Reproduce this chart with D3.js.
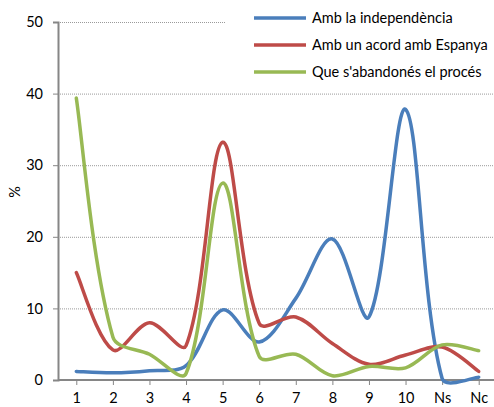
<!DOCTYPE html>
<html><head><meta charset="utf-8">
<script src="https://cdn.jsdelivr.net/npm/d3@7"></script>
<style>body{margin:0;background:#fff}svg{display:block}</style>
</head><body>
<svg id="c" width="494" height="407"></svg>
<script>
const categories = ["1","2","3","4","5","6","7","8","9","10","Ns","Nc"];
const seriesNames = ["Amb la independència","Amb un acord amb Espanya","Que s'abandonés el procés"];
const independencia = [1.2,1.0,1.3,2.0,9.8,5.3,11.4,19.7,8.8,37.8,0.2,0.4];
const acord = [15.0,4.2,8.0,4.8,33.2,7.9,8.8,5.1,2.2,3.5,4.6,1.2];
const abandones = [39.4,6.0,3.6,0.9,27.5,3.3,3.6,0.6,1.9,1.7,4.9,4.1];
const yTicks = [0,10,20,30,40,50];
const colors = ["#4A7EBB","#BE4B48","#98B954"];

const svg = d3.select("#c");
const mLeft = 58, mRight = 497, mTop = 22, mBottom = 380;
const x = d3.scalePoint().domain(categories).range([mLeft, mRight]).padding(0.5);
const y = d3.scaleLinear().domain([0,50]).range([mBottom, mTop]);
const font = "Lato, 'Open Sans', sans-serif";
const fs = 14.5;

// Excel-like smoothing curve factory (length-proportional tangents)
function ExcelSmooth(context) { this._context = context; }
ExcelSmooth.prototype = {
  areaStart() {}, areaEnd() {},
  lineStart() { this._pts = []; },
  point(x, y) { this._pts.push([+x, +y]); },
  lineEnd() {
    const p = this._pts, n = p.length, c = this._context;
    if (!n) return;
    c.moveTo(p[0][0], p[0][1]);
    if (n === 1) return;
    const outC = [], inC = [];
    for (let i = 0; i < n; i++) {
      const a = p[Math.max(0, i - 1)], b = p[i], e = p[Math.min(n - 1, i + 1)];
      const dx = e[0] - a[0], dy = e[1] - a[1];
      const la = Math.hypot(b[0] - a[0], b[1] - a[1]);
      const lb = Math.hypot(e[0] - b[0], e[1] - b[1]);
      const s = la + lb || 1;
      const fo = (i === 0 || i === n - 1) ? 1 / 6 : (lb / s) / 3;
      const fi = (i === 0 || i === n - 1) ? 1 / 6 : (la / s) / 3;
      outC[i] = [b[0] + dx * fo, b[1] + dy * fo];
      inC[i] = [b[0] - dx * fi, b[1] - dy * fi];
    }
    for (let i = 0; i < n - 1; i++) {
      c.bezierCurveTo(outC[i][0], outC[i][1], inC[i + 1][0], inC[i + 1][1], p[i + 1][0], p[i + 1][1]);
    }
  }
};
const curveExcel = ctx => new ExcelSmooth(ctx);

// gridlines
svg.append("g").selectAll("line").data(yTicks.filter(d=>d>0)).join("line")
  .attr("x1", mLeft).attr("x2", mRight)
  .attr("y1", d=>y(d)+0.5).attr("y2", d=>y(d)+0.5)
  .attr("stroke", "#9a9a9a").attr("stroke-width", 1).attr("stroke-dasharray", "1,1");

// y axis
const ya = svg.append("g").attr("transform", `translate(${mLeft},0)`)
  .call(d3.axisLeft(y).tickValues(yTicks).tickSize(5).tickPadding(10));
ya.select(".domain").attr("stroke", "#868686").attr("stroke-width", 2);
ya.selectAll(".tick line").attr("stroke", "#868686");
ya.selectAll("text").attr("font-family", font).attr("font-size", fs).attr("fill", "#000");

// x axis
const xa = svg.append("g").attr("transform", `translate(0,${mBottom})`)
  .call(d3.axisBottom(x).tickSize(5).tickSizeOuter(0).tickPadding(8));
xa.select(".domain").attr("stroke", "#868686").attr("stroke-width", 2).attr("d", `M${mLeft},0H${mRight}`);
xa.selectAll(".tick line").attr("stroke", "#868686");
xa.selectAll("text").attr("font-family", font).attr("font-size", fs).attr("fill", "#000");

// y label
svg.append("text").attr("transform", "translate(20,192) rotate(-90)")
  .attr("text-anchor", "middle").attr("font-family", font).attr("font-size", fs).text("%");

// lines
const all = [independencia, acord, abandones];
const line = d3.line().x((d,i)=>x(categories[i])).y(d=>y(d)).curve(curveExcel);
svg.append("g").selectAll("path").data(all).join("path")
  .attr("d", d=>line(d)).attr("fill","none")
  .attr("stroke", (d,i)=>colors[i]).attr("stroke-width", 3.5)
  .attr("stroke-linejoin","round").attr("stroke-linecap","round");

// legend
const lg = svg.append("g");
lg.append("rect").attr("x", 226).attr("y", 0).attr("width", 268).attr("height", 86).attr("fill", "#fff");
const items = lg.selectAll("g").data(seriesNames).join("g")
  .attr("transform", (d,i)=>`translate(0,${18 + i*27})`);
items.append("line").attr("x1", 254).attr("x2", 306).attr("y1", 0).attr("y2", 0)
  .attr("stroke", (d,i)=>colors[i]).attr("stroke-width", 3.5);
items.append("text").attr("x", 312).attr("y", 5).attr("font-family", font)
  .attr("font-size", fs).attr("fill", "#000").text(d=>d);
</script>
</body></html>
